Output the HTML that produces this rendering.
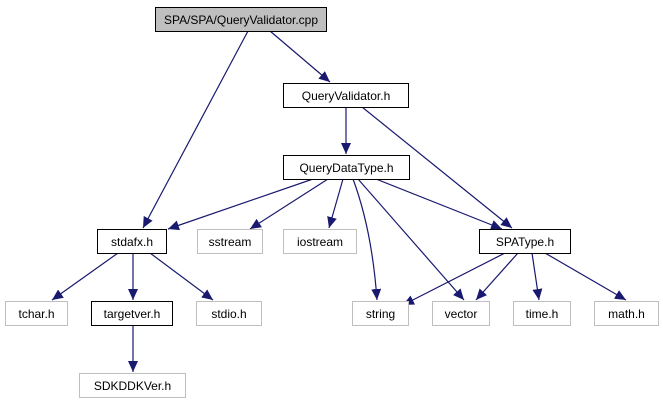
<!DOCTYPE html>
<html><head><meta charset="utf-8"><style>
html,body{margin:0;padding:0;background:#fff;width:663px;height:411px;overflow:hidden}
svg{display:block}
text{font-family:"Liberation Sans",Arial,sans-serif;font-size:12px;fill:#000;text-anchor:middle}
</style></head><body>
<svg width="663" height="411" viewBox="0 0 663 411" xmlns="http://www.w3.org/2000/svg">
<defs>
<marker id="a" markerUnits="userSpaceOnUse" markerWidth="12" markerHeight="10" refX="11" refY="5" orient="auto">
<path d="M0,0 L11,5 L0,10 Z" fill="#191970"/>
</marker>
</defs>
<g stroke="#191970" stroke-width="1.2" fill="none" marker-end="url(#a)">
<line x1="248" y1="31" x2="143" y2="228"/>
<line x1="270" y1="31" x2="330" y2="82"/>
<line x1="346" y1="107" x2="346" y2="154"/>
<line x1="362" y1="107" x2="512" y2="228"/>
<line x1="313" y1="179" x2="168" y2="229"/>
<line x1="328" y1="179" x2="250" y2="229"/>
<line x1="343" y1="179" x2="329" y2="228"/>
<path d="M353,179 Q372,230 377,300"/>
<line x1="358" y1="179" x2="464" y2="300"/>
<line x1="376" y1="179" x2="502" y2="229"/>
<line x1="118" y1="253" x2="52" y2="300"/>
<line x1="133" y1="253" x2="133" y2="300"/>
<line x1="150" y1="253" x2="213" y2="300"/>
<line x1="133" y1="325" x2="133" y2="372"/>
<line x1="505" y1="253" x2="403" y2="305"/>
<line x1="518" y1="253" x2="476" y2="300"/>
<line x1="532" y1="253" x2="539" y2="300"/>
<line x1="545" y1="253" x2="626" y2="300"/>
</g>
<g stroke-width="1">
<rect x="155.5" y="7.5" width="171" height="24" fill="#bfbfbf" stroke="#000"/>
<rect x="283.5" y="83.5" width="125" height="24" fill="#fff" stroke="#000"/>
<rect x="283.5" y="155.5" width="126" height="24" fill="#fff" stroke="#000"/>
<rect x="97.5" y="229.5" width="69" height="24" fill="#fff" stroke="#000"/>
<rect x="197.5" y="229.5" width="65" height="24" fill="#fff" stroke="#bfbfbf"/>
<rect x="283.5" y="229.5" width="73" height="24" fill="#fff" stroke="#bfbfbf"/>
<rect x="479.5" y="229.5" width="91" height="24" fill="#fff" stroke="#000"/>
<rect x="5.5" y="301.5" width="62" height="24" fill="#fff" stroke="#bfbfbf"/>
<rect x="91.5" y="301.5" width="81" height="24" fill="#fff" stroke="#000"/>
<rect x="196.5" y="301.5" width="65" height="24" fill="#fff" stroke="#bfbfbf"/>
<rect x="352.5" y="301.5" width="56" height="24" fill="#fff" stroke="#bfbfbf"/>
<rect x="432.5" y="301.5" width="57" height="24" fill="#fff" stroke="#bfbfbf"/>
<rect x="513.5" y="301.5" width="57" height="24" fill="#fff" stroke="#bfbfbf"/>
<rect x="594.5" y="301.5" width="64" height="24" fill="#fff" stroke="#bfbfbf"/>
<rect x="79.5" y="373.5" width="106" height="24" fill="#fff" stroke="#bfbfbf"/>
</g>
<text x="241" y="24">SPA/SPA/QueryValidator.cpp</text>
<text x="346" y="100">QueryValidator.h</text>
<text x="346.5" y="172">QueryDataType.h</text>
<text x="132" y="246">stdafx.h</text>
<text x="230" y="246">sstream</text>
<text x="320" y="246">iostream</text>
<text x="525" y="246">SPAType.h</text>
<text x="36.5" y="318">tchar.h</text>
<text x="132" y="318">targetver.h</text>
<text x="229" y="318">stdio.h</text>
<text x="380.5" y="318">string</text>
<text x="461" y="318">vector</text>
<text x="542" y="318">time.h</text>
<text x="626.5" y="318">math.h</text>
<text x="132.5" y="390">SDKDDKVer.h</text>
</svg>
</body></html>
